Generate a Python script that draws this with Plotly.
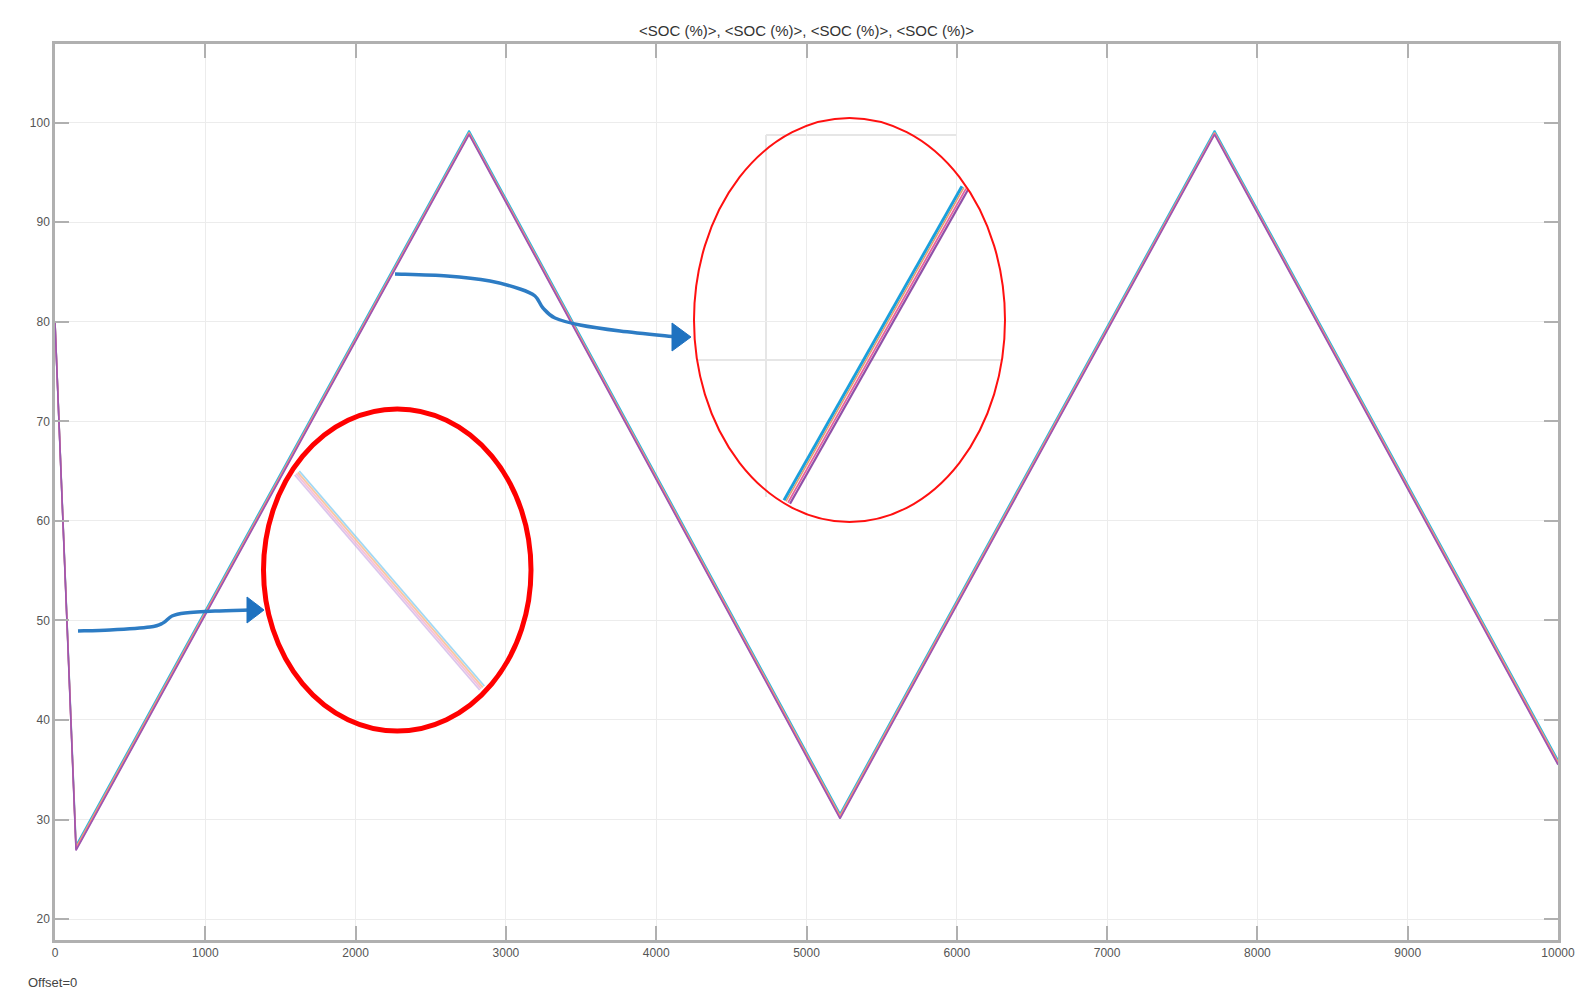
import plotly.graph_objects as go

# ---------------- data ----------------
time_s = [0, 140, 2755, 5223, 7715, 10000]
soc_blue = [80.0, 27.4, 99.2, 30.6, 99.2, 36.0]
soc_orange = [80.0, 27.2, 99.0, 30.4, 99.0, 35.8]
soc_pink = [80.0, 27.0, 98.9, 30.2, 98.9, 35.6]
soc_purple = [79.9, 26.9, 98.8, 30.1, 98.8, 35.5]
series_names = ["SOC (%) 1", "SOC (%) 2", "SOC (%) 3", "SOC (%) 4"]
series_colors = ["#27b4e3", "#f2a46a", "#ee5fa0", "#9a58b0"]

x_ticks = list(range(0, 10001, 1000))
y_ticks = list(range(20, 101, 10))

# inset (magnified view) segments, in overlay pixel units
inset1_x = [297, 482]
inset1_y = [473, 688]
inset1_offsets = [(2.3, -2.0), (0.8, -0.7), (-0.8, 0.7), (-2.3, 2.0)]
inset2_x = [787, 965]
inset2_y = [502, 188]
inset2_offsets = [(-3.0, -1.7), (-1.0, -0.6), (1.0, 0.6), (3.0, 1.7)]

# decoration geometry (overlay pixel units, page coordinates)
ellipse1 = (263.5, 409, 531, 731)
ellipse2 = (694, 118, 1005, 522)
arrow1 = [(78, 631), (110, 630), (150, 627), (163, 623), (172, 616), (185, 613),
          (215, 611), (250, 610)]
arrow1_head = (247, 264, 610, 13)
arrow2 = [(395, 274), (447, 276), (490, 281), (520, 289), (535, 296), (543, 308),
          (555, 318), (580, 325), (620, 331), (676, 337)]
arrow2_head = (672, 691, 337, 14)
inset2_grid_v = (766, 135, 497)
inset2_grid_h = [(697, 1002, 360), (766, 957, 135)]

PAGE_PAD = 8
L, R, T, B = 55, 1558, 44, 940
W, H = 1595 - 2 * PAGE_PAD, 1008 - 2 * PAGE_PAD

fig = go.Figure()

for name, ys, col in zip(series_names, [soc_blue, soc_orange, soc_pink, soc_purple], series_colors):
    fig.add_trace(go.Scatter(x=time_s, y=ys, mode="lines", name=name,
                             line=dict(color=col, width=1.6), showlegend=False,
                             hoverinfo="skip"))

# inset line traces (overlay axes in pixel units)
inset1_colors = ["rgba(120,200,240,0.7)", "rgba(245,180,130,0.75)",
                 "rgba(240,150,190,0.6)", "rgba(190,150,220,0.55)"]
for (dx, dy), col in zip(inset1_offsets, inset1_colors):
    fig.add_trace(go.Scatter(x=[v + dx for v in inset1_x], y=[v + dy for v in inset1_y],
                             mode="lines", xaxis="x2", yaxis="y2", showlegend=False,
                             line=dict(color=col, width=1.8), hoverinfo="skip"))
inset2_colors = ["#1aa0dc", "#e0a070", "#e860a0", "#9050a8"]
inset2_widths = [3, 1.6, 1.8, 2.2]
for (dx, dy), col, wd in zip(inset2_offsets, inset2_colors, inset2_widths):
    fig.add_trace(go.Scatter(x=[v + dx for v in inset2_x], y=[v + dy for v in inset2_y],
                             mode="lines", xaxis="x2", yaxis="y2", showlegend=False,
                             line=dict(color=col, width=wd), hoverinfo="skip"))

shapes = []
gx, gy0, gy1 = inset2_grid_v
shapes.append(dict(type="line", xref="x2", yref="y2", x0=gx, x1=gx, y0=gy0, y1=gy1,
                   line=dict(color="#e6e6e6", width=2), layer="below"))
for hx0, hx1, hy in inset2_grid_h:
    shapes.append(dict(type="line", xref="x2", yref="y2", x0=hx0, x1=hx1, y0=hy, y1=hy,
                       line=dict(color="#e6e6e6", width=2), layer="below"))
x0, y0, x1, y1 = ellipse1
shapes.append(dict(type="circle", xref="x2", yref="y2", x0=x0, x1=x1, y0=y0, y1=y1,
                   line=dict(color="#ff0000", width=5)))
x0, y0, x1, y1 = ellipse2
shapes.append(dict(type="circle", xref="x2", yref="y2", x0=x0, x1=x1, y0=y0, y1=y1,
                   line=dict(color="#ff1010", width=2)))


def smooth_path(pts):
    p = "M %g,%g" % pts[0]
    n = len(pts)
    for i in range(n - 1):
        p0 = pts[i - 1] if i > 0 else pts[i]
        p1 = pts[i]
        p2 = pts[i + 1]
        p3 = pts[i + 2] if i + 2 < n else pts[i + 1]
        c1 = (p1[0] + (p2[0] - p0[0]) / 6, p1[1] + (p2[1] - p0[1]) / 6)
        c2 = (p2[0] - (p3[0] - p1[0]) / 6, p2[1] - (p3[1] - p1[1]) / 6)
        p += " C %g,%g %g,%g %g,%g" % (c1[0], c1[1], c2[0], c2[1], p2[0], p2[1])
    return p


for pts, head in [(arrow1, arrow1_head), (arrow2, arrow2_head)]:
    shapes.append(dict(type="path", xref="x2", yref="y2", path=smooth_path(pts),
                       line=dict(color="#2d7cc4", width=3.5)))
    hb, ht, hy, hh = head
    shapes.append(dict(type="path", xref="x2", yref="y2",
                       path="M %g,%g L %g,%g L %g,%g Z" % (hb, hy - hh, ht, hy, hb, hy + hh),
                       fillcolor="#1f72c0", line=dict(color="#1f72c0", width=1)))

axis_col = "#b0b0b0"
tick_font = dict(family="Liberation Sans, Arial, sans-serif", size=12, color="#555555")

fig.update_layout(
    width=W, height=H,
    margin=dict(l=L - PAGE_PAD, r=(W + PAGE_PAD) - R, t=T - PAGE_PAD, b=(H + PAGE_PAD) - B, pad=0),
    plot_bgcolor="white", paper_bgcolor="white",
    showlegend=False,
    title=dict(text="&lt;SOC (%)&gt;, &lt;SOC (%)&gt;, &lt;SOC (%)&gt;, &lt;SOC (%)&gt;",
               x=((L + R) / 2 - PAGE_PAD) / W, xanchor="center", xref="container",
               y=1 - (31 - PAGE_PAD) / H, yanchor="middle", yref="container",
               font=dict(family="Liberation Sans, Arial, sans-serif", size=15, color="#333333")),
    xaxis=dict(range=[0, 10000], tickvals=x_ticks, ticktext=[str(v) for v in x_ticks],
               showgrid=True, gridcolor="#ececec", gridwidth=1,
               showline=True, linecolor=axis_col, linewidth=2.5, mirror="ticks",
               ticks="inside", ticklen=14, tickwidth=2, tickcolor=axis_col,
               tickfont=tick_font, zeroline=False, fixedrange=True),
    yaxis=dict(range=[17.9, 107.9], tickvals=y_ticks, ticktext=[str(v) for v in y_ticks],
               showgrid=True, gridcolor="#ececec", gridwidth=1,
               showline=True, linecolor=axis_col, linewidth=2.5, mirror="ticks",
               ticks="inside", ticklen=14, tickwidth=2, tickcolor=axis_col,
               tickfont=tick_font, zeroline=False, fixedrange=True),
    xaxis2=dict(range=[L, R], overlaying="x", visible=False, fixedrange=True),
    yaxis2=dict(range=[B, T], overlaying="y", visible=False, fixedrange=True),
    shapes=shapes,
    annotations=[dict(text="Offset=0", xref="paper", yref="paper",
                      x=(52 - L) / (R - L), y=(B - 982) / (B - T),
                      xanchor="center", yanchor="middle", showarrow=False,
                      font=dict(family="Liberation Sans, Arial, sans-serif", size=13,
                                color="#444444"))],
)

fig.write_html("out.html")
